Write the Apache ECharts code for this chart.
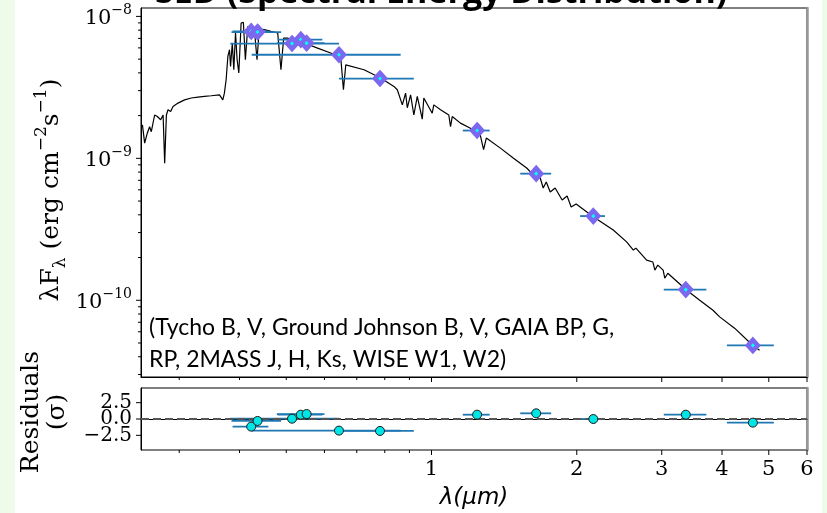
<!DOCTYPE html>
<html><head><meta charset="utf-8">
<script src="https://cdn.jsdelivr.net/npm/echarts@6/dist/echarts.min.js"></script>
<style>
html,body{margin:0;padding:0;background:#eefbe8;}
#wrap{position:absolute;left:15px;top:0;width:807px;height:513px;background:#ffffff;}
#chart{position:absolute;left:0;top:0;width:827px;height:513px;}
</style>
</head><body><div id="wrap"></div><div id="chart"></div>
<script>
// ---- model spectrum (wavelength in micron, lambda*F_lambda in erg cm^-2 s^-1) ----
const specWave = [0.2517,0.2544,0.2577,0.2605,0.2626,0.2668,0.2703,0.2746,0.2778,0.2799,
  0.2822,0.2844,0.2880,0.2913,0.2983,0.3078,0.3178,0.3281,0.3384,0.3494,
  0.3636,0.3694,0.3722,0.3753,0.3784,0.3814,0.3833,0.3865,0.3893,0.3925,
  0.3955,0.3987,0.4031,0.4075,0.4114,0.4161,0.4227,0.4295,0.4349,0.4396,
  0.4502,0.4649,0.4800,0.4875,0.4939,0.5034,0.5194,0.5448,0.5806,0.6181,
  0.6486,0.6569,0.6642,0.7246,0.7844,0.8358,0.8494,0.8700,0.8837,0.8909,
  0.9050,0.9192,0.9343,0.9568,0.9640,1.0033,1.011,1.044,1.086,1.095,
  1.104,1.148,1.204,1.262,1.282,1.299,1.389,1.479,1.577,1.601,
  1.680,1.704,1.729,1.762,1.804,1.865,1.910,1.947,1.994,2.164,
  2.380,2.537,2.620,2.652,2.791,2.876,2.903,2.944,3.020,3.044,
  3.088,3.376,3.596,3.831,3.955,4.247,4.628,4.784];
const specFlux = [1.72e-9,1.28e-9,1.51e-9,1.67e-9,1.54e-9,2.02e-9,1.97e-9,1.87e-9,2.02e-9,9.24e-10,
  2.02e-9,2.20e-9,2.14e-9,2.32e-9,2.45e-9,2.58e-9,2.66e-9,2.70e-9,2.73e-9,2.76e-9,
  2.80e-9,2.58e-9,2.88e-9,3.58e-9,5.22e-9,5.82e-9,4.44e-9,6.49e-9,4.21e-9,7.64e-9,
  4.95e-9,3.99e-9,8.98e-9,9.07e-9,4.95e-9,8.50e-9,8.28e-9,8.06e-9,4.95e-9,8.15e-9,
  8.06e-9,7.84e-9,7.64e-9,4.21e-9,7.04e-9,7.04e-9,6.66e-9,6.49e-9,5.98e-9,5.52e-9,
  5.09e-9,3.04e-9,4.56e-9,4.21e-9,3.68e-9,3.21e-9,3.04e-9,2.38e-9,2.88e-9,2.27e-9,
  2.80e-9,2.02e-9,2.73e-9,1.89e-9,2.66e-9,2.08e-9,2.38e-9,2.20e-9,2.02e-9,1.67e-9,
  1.97e-9,1.77e-9,1.63e-9,1.46e-9,1.15e-9,1.39e-9,1.18e-9,1.00e-9,8.51e-10,8.05e-10,
  7.27e-10,6.18e-10,6.81e-10,5.79e-10,6.18e-10,5.09e-10,5.43e-10,4.54e-10,4.77e-10,3.88e-10,
  3.13e-10,2.58e-10,2.26e-10,2.33e-10,1.92e-10,1.86e-10,1.63e-10,1.77e-10,1.63e-10,1.43e-10,
  1.55e-10,1.18e-10,1.00e-10,8.51e-11,7.64e-11,6.36e-11,4.82e-11,4.44e-11];

// ---- photometry ----
const bandNames = ['Tycho B','Johnson B','GAIA BP','Tycho V','Johnson V','GAIA G','GAIA RP','2MASS J','2MASS H','2MASS Ks','WISE W1','WISE W2'];
const bandWave  = [0.423,0.436,0.514,0.536,0.551,0.643,0.782,1.243,1.648,2.164,3.365,4.634];
const bandFlux  = [7.84e-9,7.76e-9,6.44e-9,6.86e-9,6.49e-9,5.37e-9,3.65e-9,1.57e-9,7.80e-10,3.92e-10,1.19e-10,4.81e-11];
const bandLo    = [0.387,0.385,0.383,0.480,0.478,0.424,0.643,1.161,1.527,2.032,3.029,4.094];
const bandHi    = [0.459,0.488,0.643,0.594,0.600,0.863,0.919,1.320,1.770,2.288,3.712,5.122];
const bandResid = [-1.17,-0.30,0.05,0.66,0.76,-1.78,-1.83,0.66,0.87,0.00,0.66,-0.56];

// ---- axes ----
const xMin = 0.25, xMax = 6;
const xMajorTicks = [1,2,3,4,5,6];
const xMinorTicks = [0.3,0.4,0.5,0.6,0.7,0.8,0.9];
const yMin = 2.88e-11, yMax = 1.146e-8;
const yMajorTicks = [1e-10,1e-9,1e-8];
const yMinorTicks = [3e-11,4e-11,5e-11,6e-11,7e-11,8e-11,9e-11,2e-10,3e-10,4e-10,5e-10,6e-10,7e-10,8e-10,9e-10,2e-9,3e-9,4e-9,5e-9,6e-9,7e-9,8e-9,9e-9];
const rMin = -4.75, rMax = 4.75;
const rTicks = [-2.5,0,2.5];
const legendLines = ['(Tycho B, V, Ground Johnson B, V, GAIA BP, G,','RP, 2MASS J, H, Ks, WISE W1, W2)'];

const SERIF = 'DejaVu Serif';
const chart = echarts.init(document.getElementById('chart'), null, {renderer:'canvas'});

const spec = specWave.map((w,i)=>[w, specFlux[i]]);
const phot = bandWave.map((w,i)=>[w, bandFlux[i], bandLo[i], bandHi[i]]);
const resid = bandWave.map((w,i)=>[w, bandResid[i], bandLo[i], bandHi[i]]);

function errRender(params, api){
  const y = api.value(1), lo = api.value(2), hi = api.value(3);
  const p1 = api.coord([lo, y]), p2 = api.coord([hi, y]);
  return {type:'line', shape:{x1:p1[0],y1:p1[1],x2:p2[0],y2:p2[1]}, style:{stroke:'#1f77b4', lineWidth:1.8}};
}
// tick marks drawn through the axes' own scales
function xTicks(xi, yi, vals, yRef, len){
  return {type:'custom', xAxisIndex:xi, yAxisIndex:yi, data:vals.map(v=>[v,yRef]), encode:{x:0,y:1},
    clip:false, silent:true, z:6,
    renderItem:(p,api)=>{
      const c = api.coord([api.value(0), yRef]);
      const yb = p.coordSys.y + p.coordSys.height;
      return {type:'line', shape:{x1:c[0],y1:yb,x2:c[0],y2:yb+len}, style:{stroke:'#000', lineWidth:1}};
    }};
}
function yTicks(xi, yi, vals, xRef, len, fmt){
  return {type:'custom', xAxisIndex:xi, yAxisIndex:yi, data:vals.map(v=>[xRef,v]), encode:{x:0,y:1},
    clip:false, silent:true, z:6,
    renderItem:(p,api)=>{
      const c = api.coord([xRef, api.value(1)]);
      const xl = p.coordSys.x;
      const tick = {type:'line', shape:{x1:xl,y1:c[1],x2:xl-len,y2:c[1]}, style:{stroke:'#000', lineWidth:1}};
      if (!fmt) return tick;
      return {type:'group', children:[tick,
        {type:'text', x:xl-len-4, y:c[1], style:{text:fmt(api.value(1)), align:'right', verticalAlign:'middle',
          font:'20px "DejaVu Serif"', fill:'#000'}}]};
    }};
}
function supFmt(v){
  const e = Math.round(Math.log10(v));
  return '{b|10}{s|' + (e<0?'\u2212':'') + Math.abs(e) + '}';
}
const residFmt = v => (v<0?'\u2212':'') + Math.abs(v).toFixed(1);
const lineBlack = {show:true, lineStyle:{color:'#000', width:1}};

function xAxisDef(grid, showLabel){
  return {gridIndex:grid, type:'log', logBase:10, min:xMin, max:xMax, position:'bottom',
    axisLine:lineBlack, splitLine:{show:false}, axisTick:{show:false},
    axisLabel:{show:showLabel, customValues:xMajorTicks, formatter:v=>String(Math.round(v)),
      fontFamily:SERIF, fontSize:21, color:'#000', margin:9, hideOverlap:false},
    name: showLabel ? 'λ(μm)' : '', nameLocation:'middle', nameGap:37,
    nameTextStyle:{fontFamily:'DejaVu Sans', fontStyle:'italic', fontSize:23, color:'#000'}};
}

const option = {
  animation:false,
  backgroundColor:'transparent',
  grid:[
    {left:141, top:8, width:666, height:369, show:true, borderColor:'#000', borderWidth:1, containLabel:false},
    {left:141, top:388, width:666, height:62, show:true, borderColor:'#000', borderWidth:1, containLabel:false}
  ],
  xAxis:[ xAxisDef(0,false), xAxisDef(1,true) ],
  yAxis:[
    {gridIndex:0, type:'log', logBase:10, min:yMin, max:yMax, position:'left',
      axisLine:lineBlack, splitLine:{show:false}, axisTick:{show:false},
      axisLabel:{customValues:yMajorTicks, formatter:supFmt, margin:9, hideOverlap:false,
        rich:{b:{fontFamily:SERIF, fontSize:21, color:'#000', verticalAlign:'bottom', lineHeight:26},
              s:{fontFamily:SERIF, fontSize:14, color:'#000', verticalAlign:'top', lineHeight:26}}}},
    {gridIndex:1, type:'value', min:rMin, max:rMax, position:'left',
      axisLine:lineBlack, splitLine:{show:false}, axisTick:{show:false}, axisLabel:{show:false}},
    {gridIndex:0, type:'value', min:0, max:1, position:'right',
      axisLine:{show:true, lineStyle:{color:'#999', width:2.5}}, axisTick:{show:false}, axisLabel:{show:false}, splitLine:{show:false}},
    {gridIndex:1, type:'value', min:0, max:1, position:'right',
      axisLine:{show:true, lineStyle:{color:'#999', width:2.5}}, axisTick:{show:false}, axisLabel:{show:false}, splitLine:{show:false}}
  ],
  series:[
    {type:'line', name:'model', xAxisIndex:0, yAxisIndex:0, data:spec, showSymbol:false, symbol:'none',
      lineStyle:{color:'#000', width:1.2}, clip:true, z:2},
    {type:'custom', name:'bandwidth', xAxisIndex:0, yAxisIndex:0, data:phot, encode:{x:0,y:1},
      renderItem:errRender, clip:true, z:3},
    {type:'scatter', name:'photometry', xAxisIndex:0, yAxisIndex:0, data:phot.map(d=>[d[0],d[1]]),
      symbol:'diamond', symbolSize:[10,11],
      itemStyle:{color:'#00ffff', borderColor:'#7b68ee', borderWidth:4.5, opacity:1}, z:4},
    {type:'custom', name:'residbw', xAxisIndex:1, yAxisIndex:1, data:resid, encode:{x:0,y:1},
      renderItem:errRender, clip:true, z:3},
    {type:'scatter', name:'residuals', xAxisIndex:1, yAxisIndex:1, data:resid.map(d=>[d[0],d[1]]),
      symbol:'circle', symbolSize:9,
      itemStyle:{color:'#00e5e5', borderColor:'#1a1a1a', borderWidth:1, opacity:1}, z:5,
      markLine:{silent:true, symbol:['none','none'], label:{show:false},
        lineStyle:{color:'#555', type:[8,4], width:2}, data:[{yAxis:0}], z:4}},
    xTicks(0,0,xMajorTicks,yMin,5), xTicks(0,0,xMinorTicks,yMin,3),
    xTicks(1,1,xMajorTicks,0,5), xTicks(1,1,xMinorTicks,0,3),
    yTicks(0,0,yMajorTicks,xMin,5), yTicks(0,0,yMinorTicks,xMin,3),
    yTicks(1,1,rTicks,xMin,5,residFmt)
  ],
  graphic:[
    {type:'text', left:155, top:-24, z:10,
      style:{text:'SED (Spectral Energy Distribution)', font:'bold 34px "Open Sans"', fill:'#000'}},
    {type:'text', x:149, y:312, z:10,
      style:{text:legendLines.join('\n'), font:'23px Lato', fill:'#000', lineHeight:32}},
    {type:'text', x:51, y:190, rotation:Math.PI/2, z:10,
      style:{text:'{a|λF}{b|λ}{a| (erg cm}{c|−2}{a|s}{c|−1}{a|)}', align:'center', verticalAlign:'middle',
        rich:{a:{fontFamily:SERIF, fontSize:25, fill:'#000', lineHeight:36, verticalAlign:'middle'},
              b:{fontFamily:SERIF, fontSize:17, fill:'#000', lineHeight:36, verticalAlign:'bottom'},
              c:{fontFamily:SERIF, fontSize:17, fill:'#000', lineHeight:36, verticalAlign:'top'}}}},
    {type:'text', x:44, y:412, rotation:Math.PI/2, z:10,
      style:{text:'Residuals\n(σ)', align:'center', verticalAlign:'middle',
        font:'25px "DejaVu Serif"', fill:'#000', lineHeight:26}}
  ]
};
chart.setOption(option);
</script></body></html>
